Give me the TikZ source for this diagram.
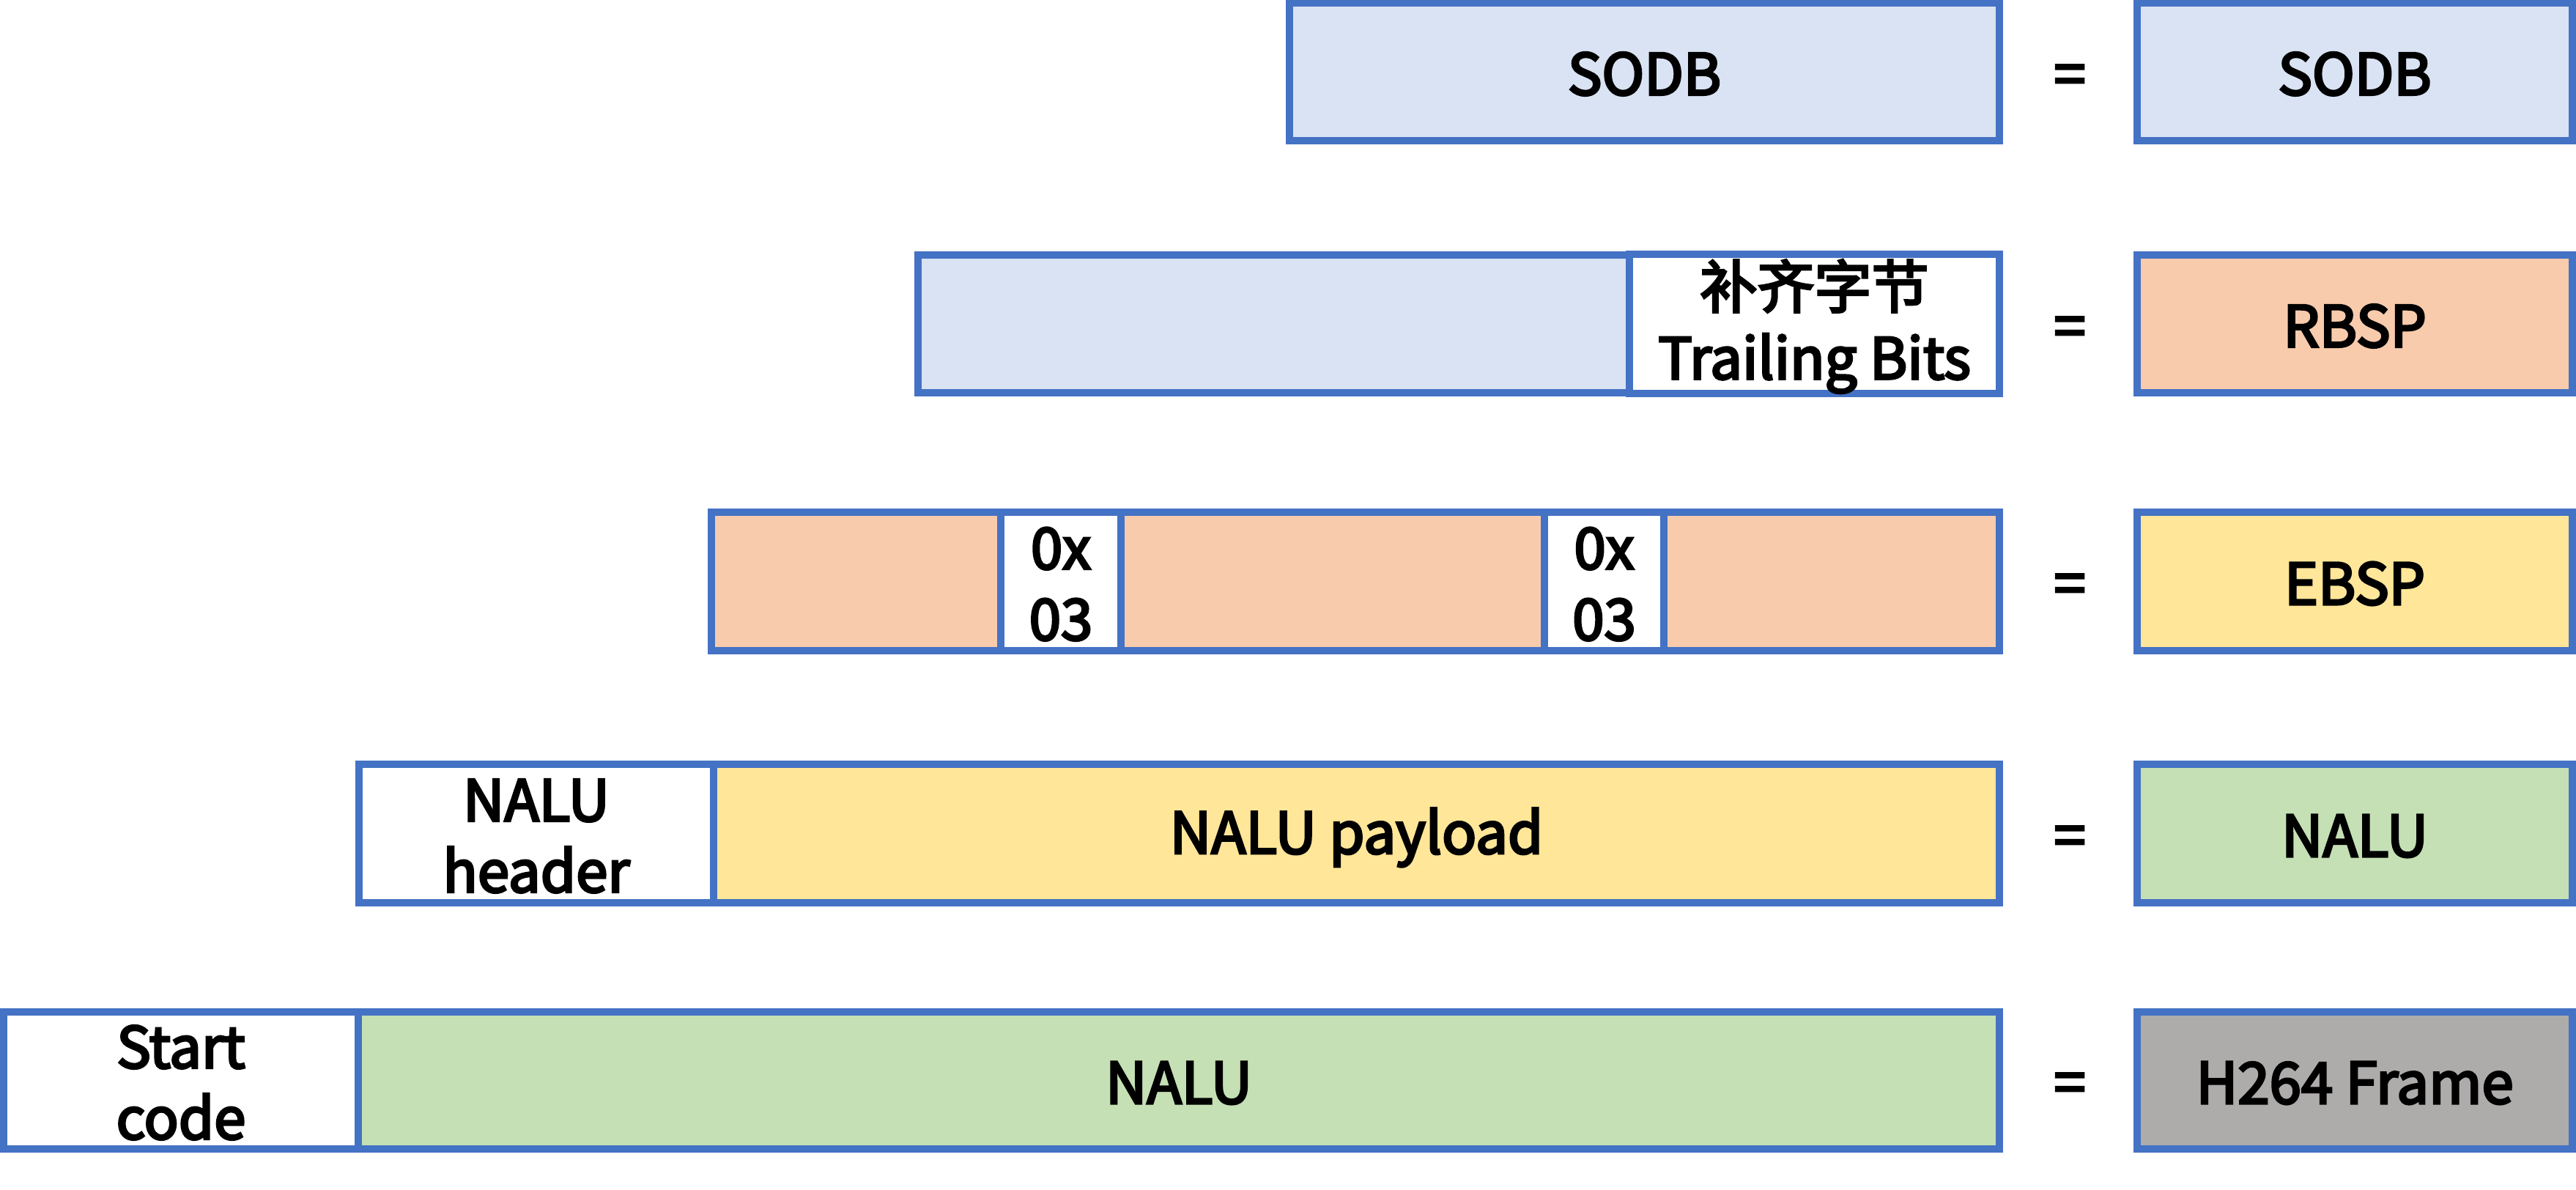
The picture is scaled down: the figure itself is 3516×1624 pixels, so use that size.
\documentclass[tikz,border=0pt]{standalone}
\usepackage{fontspec}
\setmainfont{Noto Sans CJK SC}[FakeBold=4]
\definecolor{bordblue}{HTML}{4472C4}
\definecolor{cblue}{HTML}{DAE3F3}
\definecolor{corange}{HTML}{F8CBAD}
\definecolor{cyellow}{HTML}{FFE699}
\definecolor{cgreen}{HTML}{C5E0B4}
\definecolor{cgrey}{HTML}{AEABAB}
\newcommand{\st}{\rule[-10pt]{0pt}{83pt}}
\tikzset{
  cell/.style={draw=bordblue, line width=10pt, rectangle, inner sep=0pt, outer sep=0pt,
    align=center, font=\fontsize{78}{97}\selectfont},
  eqsign/.style={inner sep=0pt, font=\fontsize{78}{97}\selectfont}
}
% \mycell{name}{x1}{x2}{y1}{y2}{fill}{text}
\newcommand{\mycell}[7]{%
  \pgfmathsetmacro{\cw}{#3-#2}\pgfmathsetmacro{\ch}{#5-#4}%
  \node[cell, fill=#6, minimum width=\cw pt, minimum height=\ch pt] (#1) at ({(#2+#3)/2},{(#4+#5)/2}) {#7};}
\begin{document}
\begin{tikzpicture}[x=1pt,y=-1pt]
\useasboundingbox (0,0) rectangle (3516,1624);
% Row 1
\mycell{sodb}{1760}{2729}{4}{192}{cblue}{\st SODB}
\mycell{rsodb}{2917}{3511}{4}{192}{cblue}{\st SODB}
\node[eqsign] (eq1) at (2825,98) {\st=};
% Row 2
\mycell{rbspdata}{1253}{2224}{348}{536}{cblue}{}
\mycell{trail}{2224}{2729}{348}{536}{white}{\st 补齐字节\\\st Trailing Bits}
\mycell{rrbsp}{2917}{3511}{348}{536}{corange}{\st RBSP}
\node[eqsign] (eq2) at (2825,442) {\st=};
% Row 3
\mycell{e1}{971}{1366}{699}{888}{corange}{}
\mycell{e2}{1366}{1530}{699}{888}{white}{\st 0x\\\st 03}
\mycell{e3}{1530}{2108}{699}{888}{corange}{}
\mycell{e4}{2108}{2271}{699}{888}{white}{\st 0x\\\st 03}
\mycell{e5}{2271}{2729}{699}{888}{corange}{}
\mycell{rebsp}{2917}{3511}{699}{888}{cyellow}{\st EBSP}
\node[eqsign] (eq3) at (2825,793) {\st=};
% Row 4
\mycell{nhdr}{490}{974}{1043}{1232}{white}{\st NALU\\\st header}
\mycell{npay}{974}{2729}{1043}{1232}{cyellow}{\st NALU payload}
\mycell{rnalu}{2917}{3511}{1043}{1232}{cgreen}{\st NALU}
\node[eqsign] (eq4) at (2825,1137) {\st=};
% Row 5
\mycell{start}{5}{489}{1381}{1568}{white}{\st Start\\\st code}
\mycell{nalu}{489}{2729}{1381}{1568}{cgreen}{\st NALU}
\mycell{rframe}{2917}{3511}{1381}{1568}{cgrey}{\st H264 Frame}
\node[eqsign] (eq5) at (2825,1474) {\st=};
\end{tikzpicture}
\end{document}
